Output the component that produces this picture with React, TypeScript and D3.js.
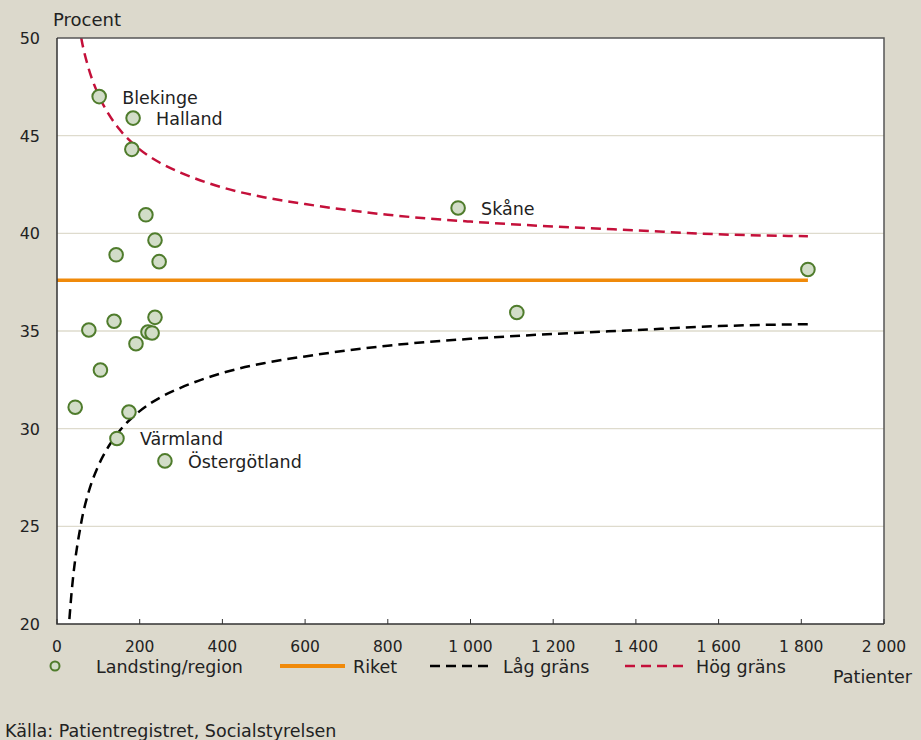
import React, { useEffect, useRef } from 'react';
import * as d3 from 'd3';

// Landsting/region: patients (x) and percent (y), label only where shown
const patients = [102, 184, 181, 215, 237, 143, 247, 970, 1816, 1112, 237, 138, 77, 220, 230, 191, 105, 44, 174, 145, 261];
const percent = [47.0, 45.9, 44.3, 40.95, 39.65, 38.9, 38.55, 41.3, 38.15, 35.95, 35.7, 35.5, 35.05, 34.95, 34.9, 34.35, 33.0, 31.1, 30.85, 29.5, 28.35];
const names = ['Blekinge', 'Halland', '', '', '', '', '', 'Skåne', '', '', '', '', '', '', '', '', '', '', '', 'Värmland', 'Östergötland'];

const riket = 37.6;
const riketRange = [0, 1816];

// control limits
const limitN = [30, 35, 40, 50, 57, 60, 75, 100, 125, 150, 200, 250, 300, 400, 500, 600, 800, 1000, 1200, 1400, 1600, 1816];
const highLimit = [54.9, 53.6, 52.6, 51.0, 50.2, 49.85, 48.55, 47.1, 46.1, 45.35, 44.3, 43.6, 43.1, 42.35, 41.85, 41.5, 40.95, 40.6, 40.35, 40.15, 39.95, 39.85];
const lowLimit = [20.25, 21.55, 22.6, 24.15, 25.0, 25.35, 26.65, 28.1, 29.1, 29.85, 30.9, 31.6, 32.1, 32.85, 33.35, 33.7, 34.25, 34.6, 34.85, 35.05, 35.25, 35.35];

const xTicks = [0, 200, 400, 600, 800, 1000, 1200, 1400, 1600, 1800, 2000];
const yTicks = [20, 25, 30, 35, 40, 45, 50];

const W = 921;
const H = 740;
const bg = '#dcd9cc';
const font = '"DejaVu Sans", Verdana, sans-serif';
const dash = '10,6';

const App: React.FC = () => {
  const svgRef = useRef<SVGSVGElement | null>(null);

  useEffect(() => {
    if (!svgRef.current) return;
    const svg = d3.select(svgRef.current);
    svg.selectAll('*').remove();

    const left = 57, right = 884, top = 38, bottom = 624;
    const x = d3.scaleLinear().domain([0, 2000]).range([left, right]);
    const y = d3.scaleLinear().domain([20, 50]).range([bottom, top]);

    svg.append('rect').attr('width', W).attr('height', H).attr('fill', bg);
    svg.append('rect')
      .attr('x', left).attr('y', top)
      .attr('width', right - left).attr('height', bottom - top)
      .attr('fill', '#ffffff');

    // grid
    svg.append('g')
      .selectAll('line')
      .data(yTicks.filter(t => t > 20 && t < 50))
      .enter()
      .append('line')
      .attr('x1', left).attr('x2', right)
      .attr('y1', d => y(d)).attr('y2', d => y(d))
      .attr('stroke', '#dedbcd')
      .attr('stroke-width', 1.3);

    const defs = svg.append('defs');
    defs.append('clipPath').attr('id', 'plot-clip')
      .append('rect')
      .attr('x', left).attr('y', top)
      .attr('width', right - left).attr('height', bottom - top);

    const plot = svg.append('g').attr('clip-path', 'url(#plot-clip)');

    const line = d3.line<[number, number]>()
      .x(d => x(d[0]))
      .y(d => y(d[1]))
      .curve(d3.curveMonotoneX);

    plot.append('path')
      .attr('d', line(limitN.map((n, i) => [n, lowLimit[i]] as [number, number])))
      .attr('fill', 'none')
      .attr('stroke', '#000000')
      .attr('stroke-width', 2.5)
      .attr('stroke-dasharray', dash);

    plot.append('path')
      .attr('d', line(limitN.map((n, i) => [n, highLimit[i]] as [number, number])))
      .attr('fill', 'none')
      .attr('stroke', '#c4103a')
      .attr('stroke-width', 2.5)
      .attr('stroke-dasharray', dash);

    plot.append('line')
      .attr('x1', x(riketRange[0])).attr('x2', x(riketRange[1]))
      .attr('y1', y(riket)).attr('y2', y(riket))
      .attr('stroke', '#f08a0a')
      .attr('stroke-width', 3.5);

    // frame
    svg.append('path')
      .attr('d', `M${left},${top}H${right}V${bottom}`)
      .attr('fill', 'none')
      .attr('stroke', '#555555')
      .attr('stroke-width', 1.5);
    svg.append('path')
      .attr('d', `M${left},${top}V${bottom}H${right}`)
      .attr('fill', 'none')
      .attr('stroke', '#333333')
      .attr('stroke-width', 1.5);

    // x ticks (inward)
    svg.append('g')
      .selectAll('line')
      .data(xTicks)
      .enter()
      .append('line')
      .attr('x1', d => x(d)).attr('x2', d => x(d))
      .attr('y1', bottom).attr('y2', bottom - 5)
      .attr('stroke', '#333333')
      .attr('stroke-width', 1);

    const fmt = (v: number) => d3.format(',')(v).replace(/,/g, ' ');

    svg.append('g')
      .selectAll('text')
      .data(xTicks)
      .enter()
      .append('text')
      .attr('x', d => x(d))
      .attr('y', 652)
      .attr('text-anchor', 'middle')
      .style('font-family', font)
      .style('font-size', '15.5px')
      .style('fill', '#222')
      .text(d => fmt(d));

    svg.append('g')
      .selectAll('text')
      .data(yTicks)
      .enter()
      .append('text')
      .attr('x', 40)
      .attr('y', d => y(d) + 6)
      .attr('text-anchor', 'end')
      .style('font-family', font)
      .style('font-size', '16px')
      .style('fill', '#222')
      .text(d => d);

    svg.append('text')
      .attr('x', 53).attr('y', 26)
      .style('font-family', font).style('font-size', '18px').style('fill', '#222')
      .text('Procent');
    svg.append('text')
      .attr('x', 912).attr('y', 683)
      .attr('text-anchor', 'end')
      .style('font-family', font).style('font-size', '17.5px').style('fill', '#222')
      .text('Patienter');

    // points
    const pts = patients.map((p, i) => ({ n: p, v: percent[i], name: names[i] }));
    svg.append('g')
      .selectAll('circle')
      .data(pts)
      .enter()
      .append('circle')
      .attr('cx', d => x(d.n))
      .attr('cy', d => y(d.v))
      .attr('r', 6.8)
      .attr('fill', '#d2ddc8')
      .attr('stroke', '#4f7c2c')
      .attr('stroke-width', 2);

    svg.append('g')
      .selectAll('text')
      .data(pts.filter(d => d.name))
      .enter()
      .append('text')
      .attr('x', d => x(d.n) + 23)
      .attr('y', d => y(d.v) + 7)
      .style('font-family', font)
      .style('font-size', '17.5px')
      .style('fill', '#222')
      .text(d => d.name);

    // legend
    const ly = 666;
    const lg = svg.append('g');
    lg.append('circle').attr('cx', 55).attr('cy', ly).attr('r', 4.5)
      .attr('fill', '#d2ddc8').attr('stroke', '#4f7c2c').attr('stroke-width', 2);
    lg.append('line').attr('x1', 280).attr('x2', 345).attr('y1', ly).attr('y2', ly)
      .attr('stroke', '#f08a0a').attr('stroke-width', 4);
    lg.append('line').attr('x1', 430).attr('x2', 494).attr('y1', ly).attr('y2', ly)
      .attr('stroke', '#000').attr('stroke-width', 2.5).attr('stroke-dasharray', dash);
    lg.append('line').attr('x1', 625).attr('x2', 689).attr('y1', ly).attr('y2', ly)
      .attr('stroke', '#c4103a').attr('stroke-width', 2.5).attr('stroke-dasharray', dash);
    const legendText: [number, string][] = [[96, 'Landsting/region'], [353, 'Riket'], [503, 'Låg gräns'], [696, 'Hög gräns']];
    lg.selectAll('text')
      .data(legendText)
      .enter()
      .append('text')
      .attr('x', d => d[0])
      .attr('y', 673)
      .style('font-family', font).style('font-size', '17.5px').style('fill', '#222')
      .text(d => d[1]);

    svg.append('text')
      .attr('x', 5).attr('y', 737)
      .style('font-family', font).style('font-size', '17.5px').style('fill', '#222')
      .text('Källa: Patientregistret, Socialstyrelsen');
  }, []);

  return (
    <svg
      ref={svgRef}
      width={W}
      height={H}
      style={{ position: 'absolute', left: 0, top: 0, display: 'block' }}
    />
  );
};

export default App;
